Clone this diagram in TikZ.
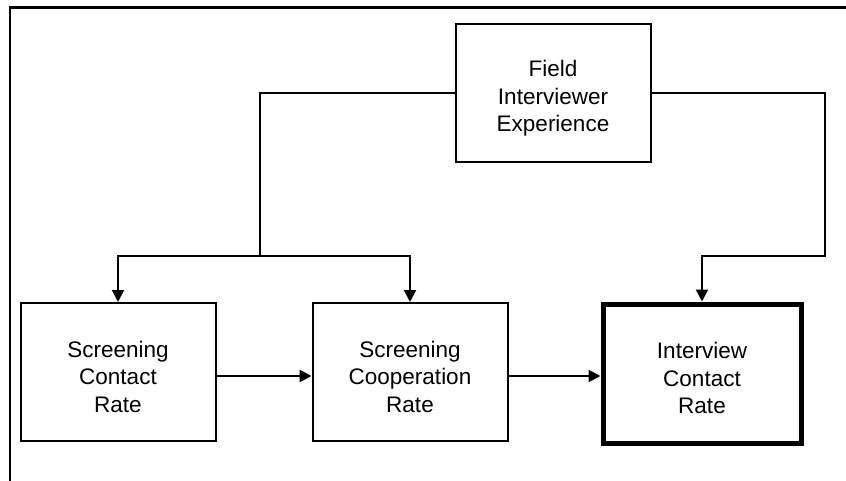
\documentclass[tikz,border=0pt]{standalone}
\usepackage{fontspec}
\setmainfont{Liberation Sans}
\usetikzlibrary{arrows.meta}
\begin{document}
\begin{tikzpicture}[x=1pt,y=-1pt,
  frameline/.style={line width=2.5pt},
  box/.style={draw,rectangle,line width=2pt,minimum width=195pt,minimum height=138pt,inner sep=0pt},
  keybox/.style={box,line width=5pt,minimum width=198pt,minimum height=139pt},
  txt/.style={align=center,inner sep=0pt,font=\fontsize{22.5}{27.5}\selectfont},
  link/.style={line width=2pt},
  arr/.style={link,-{Triangle[length=12pt,width=12pt]}}]
  \useasboundingbox (0,0) rectangle (846,481);
  % page frame (top and left rules)
  \draw[frameline] (10,481) -- (10,7.5) -- (846,7.5);
  % boxes
  \node[box] (fie) at (553,93) {};
  \node[txt] (fiet) at ([yshift=-5.5pt]fie.center) {Field\\Interviewer\\Experience};
  \node[box] (scr) at (118,372) {};
  \node[txt] (scrt) at ([yshift=-4.5pt]scr.center) {Screening\\Contact\\Rate};
  \node[box] (sco) at (410,372) {};
  \node[txt] (scot) at ([yshift=-4.5pt]sco.center) {Screening\\Cooperation\\Rate};
  \node[keybox] (icr) at (702,373.5) {};
  \node[txt] (icrt) at ([yshift=-4.5pt]icr.center) {Interview\\Contact\\Rate};
  % junction points
  \coordinate (jl) at (260,93);
  \coordinate (jd) at (260,255.5);
  \coordinate (jr) at (825,255.5);
  % connectors
  \draw[link] (fie.west) -- (jl) -- (jd);
  \draw[arr] (jd) -| (scr.north);
  \draw[arr] (jd) -| (sco.north);
  \draw[arr] (fie.east) -| (jr) -| (icr.north);
  \draw[arr] ([yshift=-4pt]scr.east) -- ([yshift=-4pt]sco.west);
  \draw[arr] ([yshift=-4pt]sco.east) -- ([yshift=-4pt]sco.east -| icr.west);
\end{tikzpicture}
\end{document}
